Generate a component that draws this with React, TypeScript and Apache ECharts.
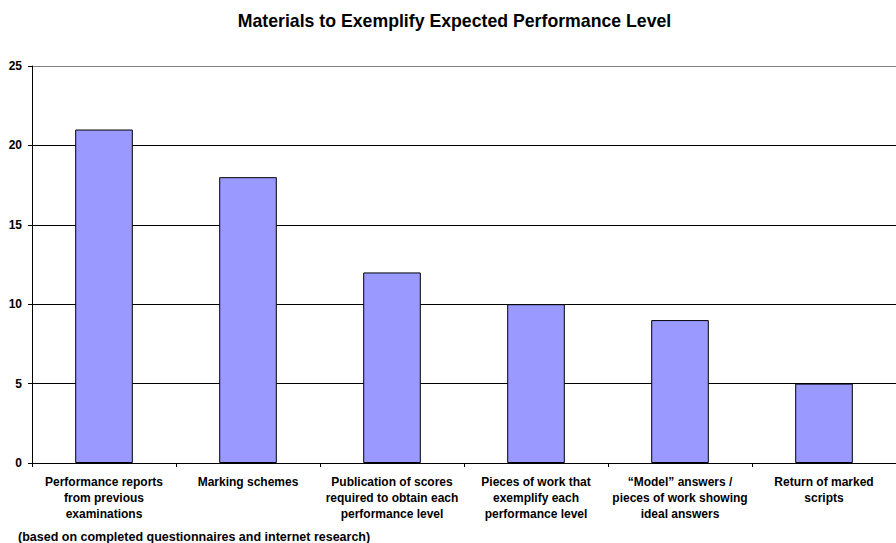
import React, { useEffect, useRef } from "react";
import * as echarts from "echarts";

const title = "Materials to Exemplify Expected Performance Level";
const footnote = "(based on completed questionnaires and internet research)";
const categories = [
  "Performance reports\nfrom previous\nexaminations",
  "Marking schemes",
  "Publication of scores\nrequired to obtain each\nperformance level",
  "Pieces of work that\nexemplify each\nperformance level",
  "\u201cModel\u201d answers /\npieces of work showing\nideal answers",
  "Return of marked\nscripts",
];
const counts = [21, 18, 12, 10, 9, 5];

const FONT = "Arial, 'Liberation Sans', Helvetica, sans-serif";

export default function App() {
  const ref = useRef<HTMLDivElement>(null);
  useEffect(() => {
    if (!ref.current) return;
    const chart = echarts.init(ref.current, null, { renderer: "svg" });
    chart.setOption({
      animation: false,
      backgroundColor: "#ffffff",
      textStyle: { fontFamily: FONT },
      graphic: [
        {
          type: "text",
          x: 454.5,
          y: 21,
          style: {
            text: title,
            fontFamily: FONT,
            fontWeight: "bold",
            fontSize: 17.7,
            fill: "#000",
            align: "center",
            verticalAlign: "middle",
          },
        },
        {
          type: "text",
          x: 18,
          y: 537,
          style: {
            text: footnote,
            fontFamily: FONT,
            fontWeight: "bold",
            fontSize: 12.5,
            fill: "#000",
            align: "left",
            verticalAlign: "middle",
          },
        },
      ],
      grid: { left: 32, top: 66, width: 872, height: 397, containLabel: false },
      xAxis: {
        type: "category",
        data: categories,
        axisLine: { lineStyle: { color: "#000", width: 1 } },
        axisTick: { show: true, length: 4, lineStyle: { color: "#000" } },
        axisLabel: {
          interval: 0,
          margin: 11,
          color: "#000",
          fontWeight: "bold",
          fontSize: 12,
          lineHeight: 16,
          fontFamily: FONT,
        },
      },
      yAxis: {
        type: "value",
        min: 0,
        max: 25,
        interval: 5,
        axisLine: { show: true, lineStyle: { color: "#000", width: 1 } },
        axisTick: { show: true, length: 4, lineStyle: { color: "#000" } },
        axisLabel: {
          margin: 10,
          color: "#000",
          fontWeight: "bold",
          fontSize: 12,
          fontFamily: FONT,
        },
        splitLine: {
          show: true,
          lineStyle: {
            color: ["#000", "#000", "#000", "#000", "#000", "#808080"],
            width: 1,
          },
        },
      },
      series: [
        {
          type: "bar",
          data: counts,
          barWidth: "40%",
          itemStyle: { color: "#9999ff", borderColor: "#000", borderWidth: 1 },
        },
      ],
    });
    return () => chart.dispose();
  }, []);
  return <div ref={ref} style={{ width: 896, height: 543, position: "absolute", left: 0, top: 0 }} />;
}
